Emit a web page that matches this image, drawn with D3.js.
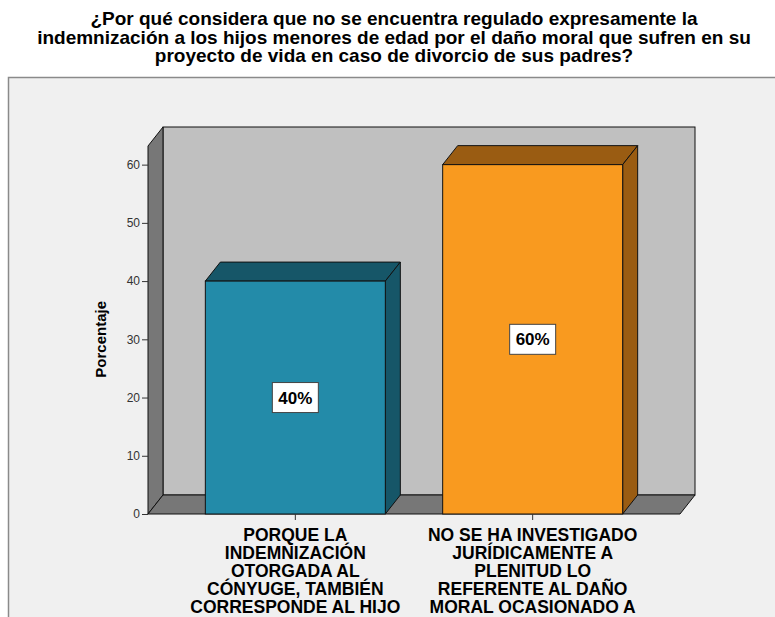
<!DOCTYPE html>
<html>
<head>
<meta charset="utf-8">
<script src="https://cdn.jsdelivr.net/npm/d3@7"></script>
<style>
  body { margin: 0; background: #ffffff; }
  svg text { font-family: "Liberation Sans", Arial, sans-serif; }
</style>
</head>
<body>
<div id="grafico"></div>
<script>
// datos del gráfico
var titulo = [
    "¿Por qué considera que no se encuentra regulado expresamente la",
    "indemnización a los hijos menores de edad por el daño moral que sufren en su",
    "proyecto de vida en caso de divorcio de sus padres?"
];
var categorias = ["A", "B"];
var etiquetas = [
    ["PORQUE LA", "INDEMNIZACIÓN", "OTORGADA AL", "CÓNYUGE, TAMBIÉN", "CORRESPONDE AL HIJO"],
    ["NO SE HA INVESTIGADO", "JURÍDICAMENTE A", "PLENITUD LO", "REFERENTE AL DAÑO", "MORAL OCASIONADO A"]
];
var porcentajes = [40, 60];
var ticksY = [0, 10, 20, 30, 40, 50, 60];
var coloresFrente = ["#238ba9", "#f99a1f"];
var coloresLado = ["#165668", "#9a5c12"];

var W = 775, H = 617;
var dx = 15, dy = -19;
var mIzq = 148, mDer = 680, mAbajo = 514, mArriba = 146;

var svg = d3.select("#grafico").append("svg")
    .attr("width", W).attr("height", H);

/* TÍTULO */
svg.append("g").selectAll("text").data(titulo).enter().append("text")
    .attr("x", 394)
    .attr("y", function(d, i) { return 25 + i * 18.5; })
    .attr("text-anchor", "middle")
    .style("font-size", "19px")
    .style("font-weight", "bold")
    .attr("fill", "#000")
    .text(function(d) { return d; });

/* MARCO */
svg.append("rect").attr("x", 8.5).attr("y", 77.5).attr("width", 800).attr("height", 600)
    .attr("fill", "#f0f0f0").attr("stroke", "#8a8a8a").attr("stroke-width", 1.5);

var x = d3.scaleBand().domain(categorias).range([mIzq, mDer]).paddingInner(0.2416).paddingOuter(0.2416);
var y = d3.scaleLinear().domain([0, 63.2]).range([mAbajo, mArriba]);

function pts(a) { return a.map(function(p) { return p.join(","); }).join(" "); }

/* PAREDES */
var y0 = y(0), yMax = y(63.2);
svg.append("rect").attr("x", mIzq + dx).attr("y", yMax + dy).attr("width", mDer - mIzq)
    .attr("height", y0 - yMax).attr("fill", "#c0c0c0").attr("stroke", "#111").attr("stroke-width", 1);
svg.append("polygon").attr("points", pts([[mIzq, y0], [mIzq, yMax], [mIzq + dx, yMax + dy], [mIzq + dx, y0 + dy]]))
    .attr("fill", "#777777").attr("stroke", "#111").attr("stroke-width", 1);
svg.append("polygon").attr("points", pts([[mIzq, y0], [mDer, y0], [mDer + dx, y0 + dy], [mIzq + dx, y0 + dy]]))
    .attr("fill", "#777777").attr("stroke", "#111").attr("stroke-width", 1);

/* EJE Y */
var eje = svg.append("g").attr("transform", "translate(" + mIzq + ",0)")
    .call(d3.axisLeft(y).tickValues(ticksY).tickSize(6).tickPadding(2).tickFormat(d3.format("d")));
eje.select(".domain").remove();
eje.selectAll("line").attr("stroke", "#333");
eje.selectAll("text").style("font-size", "12px").attr("fill", "#333").style("font-family", "'Liberation Sans', Arial, sans-serif");

svg.append("text")
    .attr("transform", "translate(106," + (y(30)) + ") rotate(-90)")
    .attr("text-anchor", "middle")
    .style("font-size", "15px").style("font-weight", "bold")
    .text("Porcentaje");

/* BARRAS */
var barras = svg.selectAll(".barra").data(porcentajes).enter().append("g").attr("class", "barra");
barras.each(function(d, i) {
    var g = d3.select(this);
    var x0 = x(categorias[i]), x1 = x0 + x.bandwidth(), yt = y(d);
    g.append("polygon").attr("points", pts([[x0, yt], [x0 + dx, yt + dy], [x1 + dx, yt + dy], [x1, yt]]))
        .attr("fill", coloresLado[i]).attr("stroke", "#111").attr("stroke-width", 1);
    g.append("polygon").attr("points", pts([[x1, yt], [x1 + dx, yt + dy], [x1 + dx, y0 + dy], [x1, y0]]))
        .attr("fill", coloresLado[i]).attr("stroke", "#111").attr("stroke-width", 1);
    g.append("rect").attr("x", x0).attr("y", yt).attr("width", x1 - x0).attr("height", y0 - yt)
        .attr("fill", coloresFrente[i]).attr("stroke", "#111").attr("stroke-width", 1);

    var cx = x0 + x.bandwidth() / 2, cy = y(d / 2);
    g.append("rect").attr("x", cx - 23).attr("y", cy - 15).attr("width", 46).attr("height", 30)
        .attr("fill", "#fff").attr("stroke", "#444").attr("stroke-width", 1);
    g.append("text").attr("x", cx).attr("y", cy + 6).attr("text-anchor", "middle")
        .style("font-size", "17px").style("font-weight", "bold").text(d + "%");
});

/* EJE X */
categorias.forEach(function(c, i) {
    var cx = x(c) + x.bandwidth() / 2;
    svg.append("line").attr("x1", cx).attr("x2", cx).attr("y1", y0).attr("y2", y0 + 6).attr("stroke", "#333");
    svg.append("g").selectAll("text").data(etiquetas[i]).enter().append("text")
        .attr("x", cx)
        .attr("y", function(d, k) { return 541 + k * 18; })
        .attr("text-anchor", "middle")
        .style("font-size", "17.5px").style("font-weight", "bold")
        .text(function(d) { return d; });
});
</script>
</body>
</html>
